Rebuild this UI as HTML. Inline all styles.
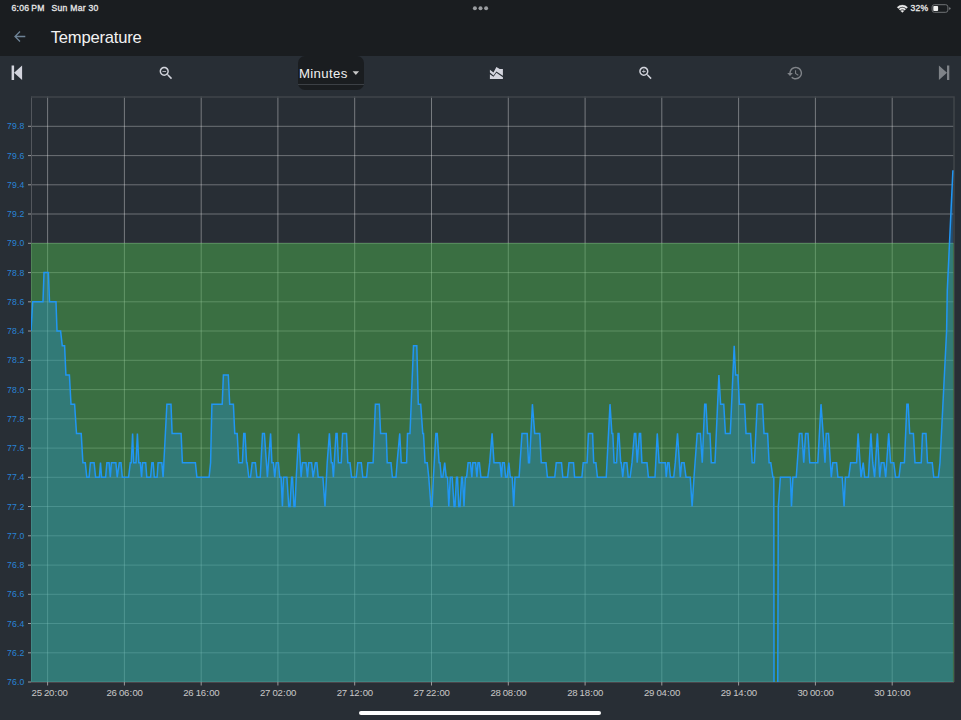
<!DOCTYPE html>
<html><head><meta charset="utf-8"><style>
*{margin:0;padding:0;box-sizing:border-box}
html,body{width:961px;height:720px;overflow:hidden;background:#282e35;font-family:"Liberation Sans",sans-serif}
#hdr{position:absolute;left:0;top:0;width:961px;height:56px;background:#1a1d20}
.sb{position:absolute;top:3.25px;font-size:8.6px;color:#e8e8e8;font-weight:normal;-webkit-text-stroke:0.3px #e8e8e8;letter-spacing:0.25px}
#title{position:absolute;left:50.7px;top:27.6px;font-size:16.6px;color:#f2f2f2;letter-spacing:-0.2px}
#dd{position:absolute;left:298px;top:56px;width:66px;height:34px;background:#1a1d20;border-radius:7px}
#dd .u{position:absolute;left:0;top:28px;width:66px;height:1px;background:#3c4045}
#dd .t{position:absolute;left:0.9px;top:9.5px;font-size:13.2px;color:#f0f0f0;letter-spacing:0.36px}
#home{position:absolute;left:359px;top:711px;width:242px;height:4px;border-radius:2px;background:#fff}
svg{position:absolute;left:0;top:0}
</style></head><body>
<div id="hdr"></div>
<div class="sb" style="left:11.5px">6:06<span style="margin-left:2px">PM</span></div>
<div class="sb" style="left:51.6px">Sun Mar 30</div>
<div class="sb" style="left:910.5px">32%</div>
<div id="title">Temperature</div>
<div id="dd"><div class="t">Minutes</div><div class="u"></div></div>
<svg width="961" height="720" viewBox="0 0 961 720">
<defs><clipPath id="pc"><rect x="31.0" y="96.5" width="923.0" height="585.5"/></clipPath></defs>
<g fill="#9a9da0"><circle cx="474.9" cy="8.3" r="2"/><circle cx="480.5" cy="8.3" r="2"/><circle cx="486.1" cy="8.3" r="2"/></g>
<path fill="#ececec" stroke="#ececec" stroke-width="0.3" stroke-linejoin="round" d="M897.12,7.27 A7.40,7.40 0 0 1 907.58,7.27 L906.38,8.47 A5.70,5.70 0 0 0 898.32,8.47 Z M899.03,9.18 A4.70,4.70 0 0 1 905.67,9.18 L904.54,10.31 A3.10,3.10 0 0 0 900.16,10.31 Z M902.35,12.50 L900.79,10.94 A2.20,2.20 0 0 1 903.91,10.94 Z"/>
<rect x="932.1" y="4.7" width="15.8" height="7.6" rx="2.2" fill="none" stroke="#707376" stroke-width="1"/>
<rect x="933.3" y="5.9" width="4.8" height="5.2" rx="0.8" fill="#f0f0f0"/>
<path d="M949,7.2 Q950.8,7.5 950.8,8.45 Q950.8,9.4 949,9.7 Z" fill="#707376"/>
<path d="M25.3,36.5 H15 M20,31.5 L15,36.5 L20,41.5" stroke="#6e8396" stroke-width="1.3" fill="none"/>
<path d="M11.6,65.4 H14.1 V80.1 H11.6 Z M14.1,72.75 L22.1,65.4 V80.1 Z" fill="#d4d5de"/>
<g transform="translate(157.5,64.6) scale(0.71)" fill="#d2d4dc"><path d="M15.5 14h-.79l-.28-.27C15.41 12.590 16 11.11 16 9.5 16 5.91 13.09 3 9.5 3S3 5.91 3 9.5 5.91 16 9.5 16c1.61 0 3.09-.59 4.23-1.57l.27.28v.79l5 4.99L20.49 19l-4.99-5zm-6 0C7.01 14 5 11.99 5 9.5S7.01 5 9.5 5 14 7.01 14 9.5 11.99 14 9.5 14zM7 9h5v1H7z"/></g>
<g transform="translate(637.1,64.6) scale(0.71)" fill="#d2d4dc"><path d="M15.5 14h-.79l-.28-.27C15.41 12.59 16 11.11 16 9.5 16 5.91 13.09 3 9.5 3S3 5.91 3 9.5 5.91 16 9.5 16c1.61 0 3.09-.59 4.23-1.57l.27.28v.79l5 4.99L20.49 19l-4.99-5zm-6 0C7.01 14 5 11.99 5 9.5S7.01 5 9.5 5 14 7.01 14 9.5 11.99 14 9.5 14zm2.5-4h-2v2H9v-2H7V9h2V7h1v2h2v1z"/></g>
<path d="M489.9,69.8 L493.5,72.5 L496.4,66.9 L499.7,68.9 L502.9,68.9 L502.9,75.8 L496.4,71.4 L493.5,75.5 L489.9,72.6 Z M489.9,74.2 L493.5,76.8 L496.4,72.8 L502.9,77.2 L502.9,79 L489.9,79 Z" fill="#d4d5de"/>
<g transform="translate(786.5,64.6) scale(0.71)" fill="#7f8388"><path d="M13 3c-4.97 0-9 4.03-9 9H1l3.89 3.89.07.14L9 12H6c0-3.870 3.13-7 7-7s7 3.13 7 7-3.13 7-7 7c-1.93 0-3.68-.79-4.94-2.060l-1.42 1.42C8.27 19.99 10.51 21 13 21c4.97 0 9-4.03 9-9s-4.03-9-9-9zm-1 5v5l4.28 2.54.72-1.21-3.5-2.08V8H12z"/></g>
<path d="M938.9,65.4 L947,72.75 L938.9,80.1 Z M947,65.4 H949.3 V80.1 H947 Z" fill="#7f8388"/>
<path d="M352.6,71.3 H359.1 L355.85,74.9 Z" fill="#c8c8c8"/>
<!-- chart -->
<g stroke="#ffffff" stroke-width="1"><g stroke-opacity="0.32"><line x1="32.0" y1="682.0" x2="954.0" y2="682.0"/><line x1="32.0" y1="652.8" x2="954.0" y2="652.8"/><line x1="32.0" y1="623.5" x2="954.0" y2="623.5"/><line x1="32.0" y1="594.3" x2="954.0" y2="594.3"/><line x1="32.0" y1="565.1" x2="954.0" y2="565.1"/><line x1="32.0" y1="535.8" x2="954.0" y2="535.8"/><line x1="32.0" y1="506.5" x2="954.0" y2="506.5"/><line x1="32.0" y1="477.3" x2="954.0" y2="477.3"/><line x1="32.0" y1="448.1" x2="954.0" y2="448.1"/><line x1="32.0" y1="418.8" x2="954.0" y2="418.8"/><line x1="32.0" y1="389.6" x2="954.0" y2="389.6"/><line x1="32.0" y1="360.3" x2="954.0" y2="360.3"/><line x1="32.0" y1="331.0" x2="954.0" y2="331.0"/><line x1="32.0" y1="301.8" x2="954.0" y2="301.8"/><line x1="32.0" y1="272.6" x2="954.0" y2="272.6"/><line x1="32.0" y1="243.3" x2="954.0" y2="243.3"/><line x1="32.0" y1="214.0" x2="954.0" y2="214.0"/><line x1="32.0" y1="184.8" x2="954.0" y2="184.8"/><line x1="32.0" y1="155.6" x2="954.0" y2="155.6"/><line x1="32.0" y1="126.3" x2="954.0" y2="126.3"/></g><g stroke-opacity="0.37"><line x1="47.6" y1="96.5" x2="47.6" y2="682.0"/><line x1="124.4" y1="96.5" x2="124.4" y2="682.0"/><line x1="201.2" y1="96.5" x2="201.2" y2="682.0"/><line x1="277.9" y1="96.5" x2="277.9" y2="682.0"/><line x1="354.7" y1="96.5" x2="354.7" y2="682.0"/><line x1="431.5" y1="96.5" x2="431.5" y2="682.0"/><line x1="508.3" y1="96.5" x2="508.3" y2="682.0"/><line x1="585.1" y1="96.5" x2="585.1" y2="682.0"/><line x1="661.8" y1="96.5" x2="661.8" y2="682.0"/><line x1="738.6" y1="96.5" x2="738.6" y2="682.0"/><line x1="815.4" y1="96.5" x2="815.4" y2="682.0"/><line x1="892.2" y1="96.5" x2="892.2" y2="682.0"/></g><line stroke-opacity="0.2" x1="31.5" y1="96.5" x2="31.5" y2="682.0"/></g>
<path d="M31,97 H954 V682" fill="none" stroke="#3f4449" stroke-width="1.6"/>
<rect x="31.0" y="243.0" width="922.8" height="439.0" fill="#4caf50" fill-opacity="0.5"/>
<path d="M31.00,331.05 L32.70,301.80 L43.00,301.80 L44.00,272.55 L48.40,272.55 L49.50,301.80 L56.00,301.80 L57.00,331.05 L60.60,331.05 L62.25,345.68 L64.60,345.68 L65.90,374.93 L69.40,374.93 L71.00,404.17 L74.60,404.17 L76.50,433.42 L81.20,433.42 L82.90,462.68 L85.30,462.68 L86.80,477.30 L89.10,477.30 L90.40,462.68 L94.10,462.68 L95.60,477.30 L99.40,477.30 L100.50,462.68 L101.60,477.30 L105.60,477.30 L106.90,462.68 L109.10,462.68 L110.30,477.30 L111.40,462.68 L115.90,462.68 L117.20,477.30 L119.30,462.68 L121.00,462.68 L122.30,477.30 L128.60,477.30 L130.30,462.68 L131.30,462.68 L132.60,433.42 L133.70,462.68 L136.00,462.68 L137.40,433.42 L138.80,462.68 L140.30,462.68 L141.60,477.30 L142.50,462.68 L145.70,462.68 L146.80,477.30 L150.60,477.30 L151.90,462.68 L153.20,462.68 L154.30,477.30 L157.10,477.30 L158.10,462.68 L161.80,462.68 L163.10,477.30 L166.90,404.17 L171.00,404.17 L172.10,433.42 L181.10,433.42 L182.40,462.68 L195.40,462.68 L196.90,477.30 L209.10,477.30 L210.60,462.68 L211.90,404.17 L222.20,404.17 L223.40,374.93 L228.30,374.93 L229.70,404.17 L233.40,404.17 L234.75,433.42 L237.20,433.42 L238.70,462.68 L242.40,462.68 L243.75,433.42 L245.00,433.42 L246.60,462.68 L247.10,462.68 L248.80,477.30 L250.50,477.30 L252.20,462.68 L255.40,462.68 L256.90,477.30 L260.25,477.30 L262.50,433.42 L264.40,433.42 L267.40,477.30 L270.60,433.42 L271.90,462.68 L273.40,462.68 L274.70,477.30 L276.20,462.68 L278.40,462.68 L279.75,477.30 L281.10,477.30 L282.40,506.55 L283.50,477.30 L286.90,477.30 L288.75,506.55 L290.00,506.55 L291.60,477.30 L292.50,477.30 L294.00,506.55 L295.00,506.55 L296.25,477.30 L298.70,433.42 L301.10,477.30 L302.40,462.68 L306.00,462.68 L307.50,477.30 L308.60,462.68 L311.60,462.68 L313.10,477.30 L315.40,462.68 L316.90,462.68 L318.20,477.30 L322.90,477.30 L325.00,506.55 L327.20,462.68 L329.40,433.42 L331.30,462.68 L332.30,462.68 L333.40,477.30 L336.00,433.42 L337.10,433.42 L338.40,462.68 L341.25,462.68 L342.60,433.42 L346.50,433.42 L347.80,462.68 L350.00,462.68 L351.60,477.30 L356.25,477.30 L357.75,462.68 L361.30,462.68 L362.80,477.30 L366.60,477.30 L367.90,462.68 L373.10,462.68 L375.40,404.17 L379.30,404.17 L380.60,433.42 L386.25,433.42 L387.20,462.68 L391.00,462.68 L392.40,477.30 L396.00,477.30 L397.10,462.68 L399.75,433.42 L401.25,462.68 L406.60,462.68 L407.50,433.42 L410.00,433.42 L413.50,345.68 L416.80,345.68 L418.30,404.17 L420.70,404.17 L422.75,433.42 L423.50,433.42 L425.00,462.68 L427.25,462.68 L428.75,477.30 L431.00,506.55 L432.10,506.55 L433.40,477.30 L435.90,433.42 L437.20,433.42 L439.10,462.68 L440.00,462.68 L441.30,477.30 L442.80,477.30 L444.70,462.68 L446.20,477.30 L447.50,477.30 L448.80,506.55 L450.30,477.30 L452.20,477.30 L454.10,506.55 L455.00,506.55 L456.50,477.30 L457.50,477.30 L458.75,506.55 L460.00,506.55 L461.60,477.30 L462.50,477.30 L464.00,506.55 L465.30,477.30 L466.60,477.30 L468.10,462.68 L470.40,462.68 L471.90,477.30 L472.80,462.68 L475.60,462.68 L476.90,477.30 L478.00,462.68 L479.40,462.68 L480.90,477.30 L487.80,477.30 L489.70,462.68 L492.10,433.42 L494.00,462.68 L500.00,462.68 L501.50,477.30 L502.40,462.68 L504.30,462.68 L505.60,477.30 L507.10,477.30 L508.80,462.68 L510.30,477.30 L512.20,477.30 L513.70,506.55 L515.00,477.30 L519.10,477.30 L522.00,433.42 L527.20,433.42 L528.50,462.68 L529.50,462.68 L532.40,404.17 L534.70,433.42 L539.75,433.42 L541.25,462.68 L546.00,462.68 L547.40,477.30 L554.75,477.30 L556.25,462.68 L561.50,462.68 L562.80,477.30 L567.50,477.30 L569.00,462.68 L573.50,462.68 L574.60,477.30 L581.90,477.30 L583.20,462.68 L587.10,462.68 L588.40,433.42 L592.60,433.42 L593.70,462.68 L595.90,462.68 L597.40,477.30 L606.25,477.30 L610.00,404.17 L611.90,433.42 L612.80,433.42 L614.10,462.68 L616.60,462.68 L618.10,433.42 L619.00,433.42 L620.70,462.68 L621.30,462.68 L622.75,477.30 L624.10,462.68 L626.90,462.68 L628.20,477.30 L630.10,477.30 L632.00,462.68 L634.40,433.42 L635.70,433.42 L637.20,462.68 L639.40,433.42 L640.60,433.42 L641.90,462.68 L647.00,462.68 L648.40,477.30 L655.00,477.30 L657.25,433.42 L659.10,462.68 L665.30,462.68 L666.25,477.30 L667.60,462.68 L669.00,462.68 L670.40,477.30 L673.75,477.30 L675.25,462.68 L677.50,433.42 L679.40,462.68 L680.30,477.30 L681.60,462.68 L684.10,462.68 L686.00,477.30 L690.25,477.30 L692.10,506.55 L694.00,477.30 L697.20,433.42 L700.40,433.42 L702.25,462.68 L704.70,404.17 L706.00,404.17 L707.50,433.42 L710.00,433.42 L711.25,462.68 L715.00,462.68 L718.90,374.93 L720.60,404.17 L723.75,404.17 L725.40,433.42 L730.30,433.42 L734.20,345.68 L735.60,374.93 L737.90,374.93 L739.40,404.17 L744.60,404.17 L746.00,433.42 L750.60,433.42 L752.20,462.68 L754.40,462.68 L757.25,404.17 L762.50,404.17 L764.00,433.42 L767.60,433.42 L769.10,462.68 L770.80,462.68 L772.90,477.30 L773.80,477.30 L774.30,974.55 L776.90,974.55 L778.30,506.55 L780.40,477.30 L790.40,477.30 L791.50,506.55 L792.90,477.30 L796.25,477.30 L799.40,433.42 L801.90,433.42 L803.75,462.68 L805.60,433.42 L808.00,433.42 L809.75,462.68 L817.80,462.68 L821.00,404.17 L823.10,433.42 L825.00,462.68 L826.25,433.42 L828.50,433.42 L831.30,477.30 L832.80,462.68 L836.60,462.68 L837.90,477.30 L842.20,477.30 L844.10,506.55 L845.40,477.30 L848.75,477.30 L850.60,462.68 L856.60,462.68 L858.10,433.42 L861.00,477.30 L863.20,462.68 L864.70,477.30 L868.40,477.30 L870.90,433.42 L872.75,462.68 L874.60,477.30 L877.40,433.42 L879.70,477.30 L881.20,462.68 L884.00,462.68 L885.70,477.30 L888.70,433.42 L890.60,462.68 L893.75,462.68 L895.60,477.30 L899.00,477.30 L900.70,462.68 L904.40,462.68 L906.90,404.17 L908.20,404.17 L909.70,433.42 L913.40,433.42 L915.00,462.68 L921.25,462.68 L922.50,433.42 L926.00,433.42 L927.50,462.68 L932.25,462.68 L933.75,477.30 L938.40,477.30 L940.00,462.68 L946.60,331.05 L947.30,290.10 L952.90,170.18 L952.90,682.00 L31.00,682.00 Z" fill="#2196f3" fill-opacity="0.3" clip-path="url(#pc)"/>
<line x1="31" y1="682.5" x2="954" y2="682.5" stroke="#4a464b" stroke-width="1"/>
<g stroke="#9a9a9c" stroke-width="1"><line x1="28" y1="682.0" x2="31.0" y2="682.0"/><line x1="28" y1="652.8" x2="31.0" y2="652.8"/><line x1="28" y1="623.5" x2="31.0" y2="623.5"/><line x1="28" y1="594.3" x2="31.0" y2="594.3"/><line x1="28" y1="565.1" x2="31.0" y2="565.1"/><line x1="28" y1="535.8" x2="31.0" y2="535.8"/><line x1="28" y1="506.5" x2="31.0" y2="506.5"/><line x1="28" y1="477.3" x2="31.0" y2="477.3"/><line x1="28" y1="448.1" x2="31.0" y2="448.1"/><line x1="28" y1="418.8" x2="31.0" y2="418.8"/><line x1="28" y1="389.6" x2="31.0" y2="389.6"/><line x1="28" y1="360.3" x2="31.0" y2="360.3"/><line x1="28" y1="331.0" x2="31.0" y2="331.0"/><line x1="28" y1="301.8" x2="31.0" y2="301.8"/><line x1="28" y1="272.6" x2="31.0" y2="272.6"/><line x1="28" y1="243.3" x2="31.0" y2="243.3"/><line x1="28" y1="214.0" x2="31.0" y2="214.0"/><line x1="28" y1="184.8" x2="31.0" y2="184.8"/><line x1="28" y1="155.6" x2="31.0" y2="155.6"/><line x1="28" y1="126.3" x2="31.0" y2="126.3"/><line x1="47.6" y1="682.0" x2="47.6" y2="685.5"/><line x1="124.4" y1="682.0" x2="124.4" y2="685.5"/><line x1="201.2" y1="682.0" x2="201.2" y2="685.5"/><line x1="277.9" y1="682.0" x2="277.9" y2="685.5"/><line x1="354.7" y1="682.0" x2="354.7" y2="685.5"/><line x1="431.5" y1="682.0" x2="431.5" y2="685.5"/><line x1="508.3" y1="682.0" x2="508.3" y2="685.5"/><line x1="585.1" y1="682.0" x2="585.1" y2="685.5"/><line x1="661.8" y1="682.0" x2="661.8" y2="685.5"/><line x1="738.6" y1="682.0" x2="738.6" y2="685.5"/><line x1="815.4" y1="682.0" x2="815.4" y2="685.5"/><line x1="892.2" y1="682.0" x2="892.2" y2="685.5"/></g>
<path d="M31.00,331.05 L32.70,301.80 L43.00,301.80 L44.00,272.55 L48.40,272.55 L49.50,301.80 L56.00,301.80 L57.00,331.05 L60.60,331.05 L62.25,345.68 L64.60,345.68 L65.90,374.93 L69.40,374.93 L71.00,404.17 L74.60,404.17 L76.50,433.42 L81.20,433.42 L82.90,462.68 L85.30,462.68 L86.80,477.30 L89.10,477.30 L90.40,462.68 L94.10,462.68 L95.60,477.30 L99.40,477.30 L100.50,462.68 L101.60,477.30 L105.60,477.30 L106.90,462.68 L109.10,462.68 L110.30,477.30 L111.40,462.68 L115.90,462.68 L117.20,477.30 L119.30,462.68 L121.00,462.68 L122.30,477.30 L128.60,477.30 L130.30,462.68 L131.30,462.68 L132.60,433.42 L133.70,462.68 L136.00,462.68 L137.40,433.42 L138.80,462.68 L140.30,462.68 L141.60,477.30 L142.50,462.68 L145.70,462.68 L146.80,477.30 L150.60,477.30 L151.90,462.68 L153.20,462.68 L154.30,477.30 L157.10,477.30 L158.10,462.68 L161.80,462.68 L163.10,477.30 L166.90,404.17 L171.00,404.17 L172.10,433.42 L181.10,433.42 L182.40,462.68 L195.40,462.68 L196.90,477.30 L209.10,477.30 L210.60,462.68 L211.90,404.17 L222.20,404.17 L223.40,374.93 L228.30,374.93 L229.70,404.17 L233.40,404.17 L234.75,433.42 L237.20,433.42 L238.70,462.68 L242.40,462.68 L243.75,433.42 L245.00,433.42 L246.60,462.68 L247.10,462.68 L248.80,477.30 L250.50,477.30 L252.20,462.68 L255.40,462.68 L256.90,477.30 L260.25,477.30 L262.50,433.42 L264.40,433.42 L267.40,477.30 L270.60,433.42 L271.90,462.68 L273.40,462.68 L274.70,477.30 L276.20,462.68 L278.40,462.68 L279.75,477.30 L281.10,477.30 L282.40,506.55 L283.50,477.30 L286.90,477.30 L288.75,506.55 L290.00,506.55 L291.60,477.30 L292.50,477.30 L294.00,506.55 L295.00,506.55 L296.25,477.30 L298.70,433.42 L301.10,477.30 L302.40,462.68 L306.00,462.68 L307.50,477.30 L308.60,462.68 L311.60,462.68 L313.10,477.30 L315.40,462.68 L316.90,462.68 L318.20,477.30 L322.90,477.30 L325.00,506.55 L327.20,462.68 L329.40,433.42 L331.30,462.68 L332.30,462.68 L333.40,477.30 L336.00,433.42 L337.10,433.42 L338.40,462.68 L341.25,462.68 L342.60,433.42 L346.50,433.42 L347.80,462.68 L350.00,462.68 L351.60,477.30 L356.25,477.30 L357.75,462.68 L361.30,462.68 L362.80,477.30 L366.60,477.30 L367.90,462.68 L373.10,462.68 L375.40,404.17 L379.30,404.17 L380.60,433.42 L386.25,433.42 L387.20,462.68 L391.00,462.68 L392.40,477.30 L396.00,477.30 L397.10,462.68 L399.75,433.42 L401.25,462.68 L406.60,462.68 L407.50,433.42 L410.00,433.42 L413.50,345.68 L416.80,345.68 L418.30,404.17 L420.70,404.17 L422.75,433.42 L423.50,433.42 L425.00,462.68 L427.25,462.68 L428.75,477.30 L431.00,506.55 L432.10,506.55 L433.40,477.30 L435.90,433.42 L437.20,433.42 L439.10,462.68 L440.00,462.68 L441.30,477.30 L442.80,477.30 L444.70,462.68 L446.20,477.30 L447.50,477.30 L448.80,506.55 L450.30,477.30 L452.20,477.30 L454.10,506.55 L455.00,506.55 L456.50,477.30 L457.50,477.30 L458.75,506.55 L460.00,506.55 L461.60,477.30 L462.50,477.30 L464.00,506.55 L465.30,477.30 L466.60,477.30 L468.10,462.68 L470.40,462.68 L471.90,477.30 L472.80,462.68 L475.60,462.68 L476.90,477.30 L478.00,462.68 L479.40,462.68 L480.90,477.30 L487.80,477.30 L489.70,462.68 L492.10,433.42 L494.00,462.68 L500.00,462.68 L501.50,477.30 L502.40,462.68 L504.30,462.68 L505.60,477.30 L507.10,477.30 L508.80,462.68 L510.30,477.30 L512.20,477.30 L513.70,506.55 L515.00,477.30 L519.10,477.30 L522.00,433.42 L527.20,433.42 L528.50,462.68 L529.50,462.68 L532.40,404.17 L534.70,433.42 L539.75,433.42 L541.25,462.68 L546.00,462.68 L547.40,477.30 L554.75,477.30 L556.25,462.68 L561.50,462.68 L562.80,477.30 L567.50,477.30 L569.00,462.68 L573.50,462.68 L574.60,477.30 L581.90,477.30 L583.20,462.68 L587.10,462.68 L588.40,433.42 L592.60,433.42 L593.70,462.68 L595.90,462.68 L597.40,477.30 L606.25,477.30 L610.00,404.17 L611.90,433.42 L612.80,433.42 L614.10,462.68 L616.60,462.68 L618.10,433.42 L619.00,433.42 L620.70,462.68 L621.30,462.68 L622.75,477.30 L624.10,462.68 L626.90,462.68 L628.20,477.30 L630.10,477.30 L632.00,462.68 L634.40,433.42 L635.70,433.42 L637.20,462.68 L639.40,433.42 L640.60,433.42 L641.90,462.68 L647.00,462.68 L648.40,477.30 L655.00,477.30 L657.25,433.42 L659.10,462.68 L665.30,462.68 L666.25,477.30 L667.60,462.68 L669.00,462.68 L670.40,477.30 L673.75,477.30 L675.25,462.68 L677.50,433.42 L679.40,462.68 L680.30,477.30 L681.60,462.68 L684.10,462.68 L686.00,477.30 L690.25,477.30 L692.10,506.55 L694.00,477.30 L697.20,433.42 L700.40,433.42 L702.25,462.68 L704.70,404.17 L706.00,404.17 L707.50,433.42 L710.00,433.42 L711.25,462.68 L715.00,462.68 L718.90,374.93 L720.60,404.17 L723.75,404.17 L725.40,433.42 L730.30,433.42 L734.20,345.68 L735.60,374.93 L737.90,374.93 L739.40,404.17 L744.60,404.17 L746.00,433.42 L750.60,433.42 L752.20,462.68 L754.40,462.68 L757.25,404.17 L762.50,404.17 L764.00,433.42 L767.60,433.42 L769.10,462.68 L770.80,462.68 L772.90,477.30 L773.80,477.30 L774.30,974.55 L776.90,974.55 L778.30,506.55 L780.40,477.30 L790.40,477.30 L791.50,506.55 L792.90,477.30 L796.25,477.30 L799.40,433.42 L801.90,433.42 L803.75,462.68 L805.60,433.42 L808.00,433.42 L809.75,462.68 L817.80,462.68 L821.00,404.17 L823.10,433.42 L825.00,462.68 L826.25,433.42 L828.50,433.42 L831.30,477.30 L832.80,462.68 L836.60,462.68 L837.90,477.30 L842.20,477.30 L844.10,506.55 L845.40,477.30 L848.75,477.30 L850.60,462.68 L856.60,462.68 L858.10,433.42 L861.00,477.30 L863.20,462.68 L864.70,477.30 L868.40,477.30 L870.90,433.42 L872.75,462.68 L874.60,477.30 L877.40,433.42 L879.70,477.30 L881.20,462.68 L884.00,462.68 L885.70,477.30 L888.70,433.42 L890.60,462.68 L893.75,462.68 L895.60,477.30 L899.00,477.30 L900.70,462.68 L904.40,462.68 L906.90,404.17 L908.20,404.17 L909.70,433.42 L913.40,433.42 L915.00,462.68 L921.25,462.68 L922.50,433.42 L926.00,433.42 L927.50,462.68 L932.25,462.68 L933.75,477.30 L938.40,477.30 L940.00,462.68 L946.60,331.05 L947.30,290.10 L952.90,170.18" fill="none" stroke="#2196f3" stroke-width="1.5" stroke-linejoin="miter" clip-path="url(#pc)"/>
<g font-family="Liberation Sans" font-size="8.7" fill="#2884d6" text-anchor="end" letter-spacing="0.1"><text x="24.4" y="685.15">76.0</text><text x="24.4" y="655.90">76.2</text><text x="24.4" y="626.65">76.4</text><text x="24.4" y="597.40">76.6</text><text x="24.4" y="568.15">76.8</text><text x="24.4" y="538.90">77.0</text><text x="24.4" y="509.65">77.2</text><text x="24.4" y="480.40">77.4</text><text x="24.4" y="451.15">77.6</text><text x="24.4" y="421.90">77.8</text><text x="24.4" y="392.65">78.0</text><text x="24.4" y="363.40">78.2</text><text x="24.4" y="334.15">78.4</text><text x="24.4" y="304.90">78.6</text><text x="24.4" y="275.65">78.8</text><text x="24.4" y="246.40">79.0</text><text x="24.4" y="217.15">79.2</text><text x="24.4" y="187.90">79.4</text><text x="24.4" y="158.65">79.6</text><text x="24.4" y="129.40">79.8</text></g>
<g font-family="Liberation Sans" font-size="9.6" fill="#c8c8c8" text-anchor="middle" letter-spacing="-0.3"><text x="31.6" y="695.7" text-anchor="start">25 20<tspan dx="0.5">:</tspan><tspan dx="0.5">00</tspan></text><text x="124.48" y="695.7">26 06<tspan dx="0.5">:</tspan><tspan dx="0.5">00</tspan></text><text x="201.26" y="695.7">26 16<tspan dx="0.5">:</tspan><tspan dx="0.5">00</tspan></text><text x="278.04" y="695.7">27 02<tspan dx="0.5">:</tspan><tspan dx="0.5">00</tspan></text><text x="354.82" y="695.7">27 12<tspan dx="0.5">:</tspan><tspan dx="0.5">00</tspan></text><text x="431.60" y="695.7">27 22<tspan dx="0.5">:</tspan><tspan dx="0.5">00</tspan></text><text x="508.38" y="695.7">28 08<tspan dx="0.5">:</tspan><tspan dx="0.5">00</tspan></text><text x="585.16" y="695.7">28 18<tspan dx="0.5">:</tspan><tspan dx="0.5">00</tspan></text><text x="661.94" y="695.7">29 04<tspan dx="0.5">:</tspan><tspan dx="0.5">00</tspan></text><text x="738.72" y="695.7">29 14<tspan dx="0.5">:</tspan><tspan dx="0.5">00</tspan></text><text x="815.50" y="695.7">30 00<tspan dx="0.5">:</tspan><tspan dx="0.5">00</tspan></text><text x="892.28" y="695.7">30 10<tspan dx="0.5">:</tspan><tspan dx="0.5">00</tspan></text></g>
</svg>
<div id="home"></div>
</body></html>
